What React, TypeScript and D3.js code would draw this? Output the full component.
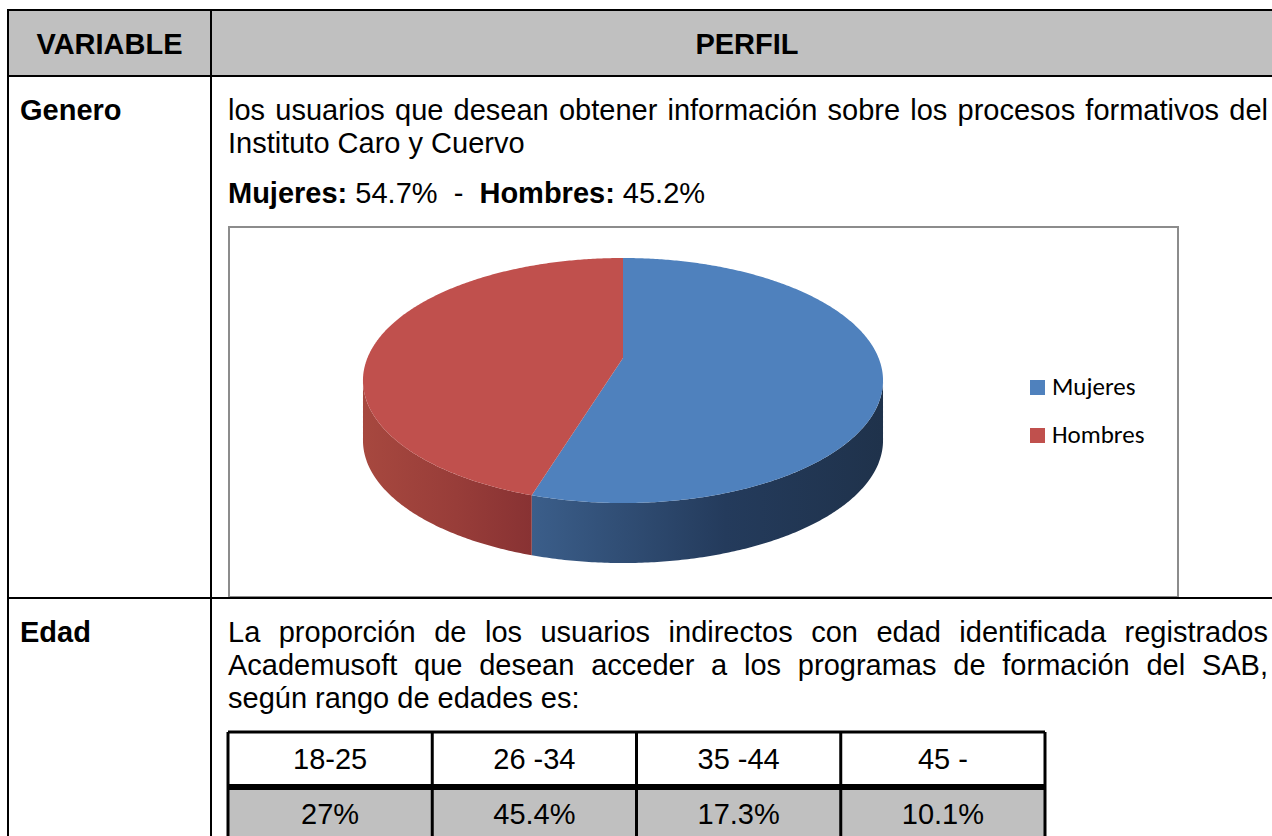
import React, { useRef, useEffect } from 'react';
import * as d3 from 'd3';

// ---- data ----
const headers = ['VARIABLE', 'PERFIL'];
const variables = ['Genero', 'Edad'];
const generoText = [
  'los usuarios que desean obtener información sobre los procesos formativos del',
  'Instituto Caro y Cuervo',
];
const edadText = [
  'La proporción de los usuarios indirectos con edad identificada registrados',
  'Academusoft que desean acceder a los programas de formación del SAB,',
  'según rango de edades es:',
];
const sexos = ['Mujeres', 'Hombres'];
const sexoPct = [54.7, 45.2];
const sexoColors = ['#4F81BD', '#C0504D'];
const sexoWall = [['#3B5E8A', '#243B5C', '#1F324B'], ['#A7483F', '#983D39', '#883233']];
const rangos = ['18-25', '26 -34', '35 -44', '45 -'];
const rangoPct = [27, 45.4, 17.3, 10.1];

const W = 1272;
const H = 836;
const FONT = '"Liberation Sans", Arial, sans-serif';
const FS = 29;

const App = () => {
  const ref = useRef<SVGSVGElement>(null);

  useEffect(() => {
    const svg = d3.select(ref.current);
    svg.selectAll('*').remove();

    const T = { left: 8, right: 1283, top: 10, head: 76, row: 598, bottom: 900, col: 211 };
    const textL = 228;
    const textR = 1268;

    // header fill
    svg.append('rect')
      .attr('x', T.left).attr('y', T.top)
      .attr('width', T.right - T.left).attr('height', T.head - T.top)
      .attr('fill', '#C0C0C0');

    const addText = (x, y, txt, opts: any = {}) =>
      svg.append('text')
        .attr('x', x).attr('y', y)
        .attr('text-anchor', opts.anchor || 'start')
        .style('font-family', opts.family || FONT)
        .style('font-size', `${opts.size || FS}px`)
        .style('font-weight', opts.bold ? 'bold' : 'normal')
        .style('white-space', 'pre')
        .attr('fill', '#000')
        .text(txt);

    // justified line: spread the words between x0 and x1
    const justify = (line, x0, x1, y) => {
      const words = line.split(' ');
      const t = svg.append('text').attr('y', y)
        .style('font-family', FONT).style('font-size', `${FS}px`).attr('fill', '#000');
      const spans = words.map(w => t.append('tspan').text(w));
      const widths = spans.map(s => (s.node() as any).getComputedTextLength());
      const gap = (x1 - x0 - d3.sum(widths)) / (words.length - 1);
      let x = x0;
      spans.forEach((s, i) => { s.attr('x', x); x += widths[i] + gap; });
    };

    // header texts
    addText((T.left + T.col) / 2, 54, headers[0], { bold: true, anchor: 'middle' });
    addText((T.col + T.right) / 2, 54, headers[1], { bold: true, anchor: 'middle' });

    // Genero row
    addText(20, 120, variables[0], { bold: true });
    justify(generoText[0], textL, textR, 120);
    addText(textL, 153, generoText[1]);

    const summary = svg.append('text').attr('x', textL).attr('y', 203)
      .style('font-family', FONT).style('font-size', `${FS}px`).style('white-space', 'pre');
    sexos.forEach((s, i) => {
      summary.append('tspan').style('font-weight', 'bold').text(`${s}:`);
      summary.append('tspan').text(` ${sexoPct[i]}%${i < sexos.length - 1 ? '  -  ' : ''}`);
    });

    // chart box
    const box = { x: 229, y: 227, w: 949, h: 370 };
    svg.append('rect')
      .attr('x', box.x).attr('y', box.y).attr('width', box.w).attr('height', box.h)
      .attr('fill', '#fff').attr('stroke', '#8C8C8C').attr('stroke-width', 2);

    // 3D pie in perspective
    const P = { cx: 623, cy: 358, A: 255.6, B: 118.4, k: 0.1837, depth: 60 };
    const proj = (a, dy = 0) => {
      const u = Math.sin(a);
      const v = -Math.cos(a);
      const w = 1 - P.k * v;
      return [P.cx + (P.A * u) / w, P.cy + (P.B * v) / w + dy];
    };
    const sample = (a0, a1, dy = 0) => {
      const n = Math.max(2, Math.ceil(Math.abs(a1 - a0) / 0.01));
      return d3.range(n + 1).map(i => proj(a0 + ((a1 - a0) * i) / n, dy));
    };
    const arcs = d3.pie<number>().sort(null).value(d => d)(sexoPct);
    const frontA = Math.acos(-P.k);
    const frontB = 2 * Math.PI - frontA;
    const line = d3.line();

    const defs = svg.append('defs');
    arcs.forEach((a, i) => {
      const a0 = Math.max(a.startAngle, frontA);
      const a1 = Math.min(a.endAngle, frontB);
      if (a1 <= a0) return;
      const top = sample(a0, a1);
      const bot = sample(a1, a0, P.depth);
      const xs = top.map(p => p[0]);
      const id = `wall-${i}`;
      const g = defs.append('linearGradient').attr('id', id)
        .attr('gradientUnits', 'userSpaceOnUse')
        .attr('x1', d3.min(xs)).attr('x2', d3.max(xs)).attr('y1', 0).attr('y2', 0);
      const cols = sexoWall[i];
      g.append('stop').attr('offset', 0).attr('stop-color', cols[0]);
      g.append('stop').attr('offset', 0.55).attr('stop-color', cols[1]);
      g.append('stop').attr('offset', 1).attr('stop-color', cols[2]);
      svg.append('path')
        .attr('d', line([...top, ...bot]) + 'Z')
        .attr('fill', `url(#${id})`);
    });
    arcs.forEach((a, i) => {
      const pts = [[P.cx, P.cy], ...sample(a.startAngle, a.endAngle)];
      svg.append('path')
        .attr('d', line(pts as any) + 'Z')
        .attr('fill', sexoColors[i]);
    });

    // legend
    sexos.forEach((s, i) => {
      const y = 380 + i * 48;
      svg.append('rect').attr('x', 1030).attr('y', y).attr('width', 15).attr('height', 15)
        .attr('fill', sexoColors[i]);
      addText(1052, y + 15, s, { family: 'Carlito, Calibri, Lato, sans-serif', size: 25 });
    });

    // Edad row
    addText(20, 642, variables[1], { bold: true });
    justify(edadText[0], textL, textR, 642);
    justify(edadText[1], textL, textR, 675);
    addText(textL, 708, edadText[2]);

    // age table
    const x = d3.scaleBand().domain(rangos).range([228, 1045]);
    const r1 = { top: 732, mid: 787, bottom: 842 };
    svg.append('rect').attr('x', 228).attr('y', r1.mid).attr('width', 1045 - 228)
      .attr('height', r1.bottom - r1.mid).attr('fill', '#C0C0C0');
    rangos.forEach((r, i) => {
      const cx = x(r) + x.bandwidth() / 2;
      addText(cx, 769, r, { anchor: 'middle' });
      addText(cx, 824, `${rangoPct[i]}%`, { anchor: 'middle' });
    });
    const tl = svg.append('g').attr('stroke', '#000').attr('stroke-width', 3);
    [...rangos.map(r => x(r)), 1045].forEach(xx => {
      tl.append('line').attr('x1', xx).attr('x2', xx).attr('y1', r1.top).attr('y2', r1.bottom);
    });
    tl.append('line').attr('x1', 228).attr('x2', 1045).attr('y1', r1.top).attr('y2', r1.top);
    tl.append('line').attr('x1', 228).attr('x2', 1045).attr('y1', r1.mid).attr('y2', r1.mid)
      .attr('stroke-width', 6);
    tl.append('line').attr('x1', 228).attr('x2', 1045).attr('y1', r1.bottom).attr('y2', r1.bottom);

    // outer table grid
    const grid = svg.append('g').attr('stroke', '#000').attr('stroke-width', 2);
    [T.top, T.head, T.row].forEach(y => {
      grid.append('line').attr('x1', T.left - 1).attr('x2', T.right).attr('y1', y).attr('y2', y);
    });
    [T.left, T.col].forEach(xx => {
      grid.append('line').attr('x1', xx).attr('x2', xx).attr('y1', T.top).attr('y2', T.bottom);
    });
  }, []);

  return (
    <svg ref={ref} width={W} height={H}
      style={{ position: 'absolute', left: 0, top: 0, background: '#fff' }} />
  );
};

export default App;
